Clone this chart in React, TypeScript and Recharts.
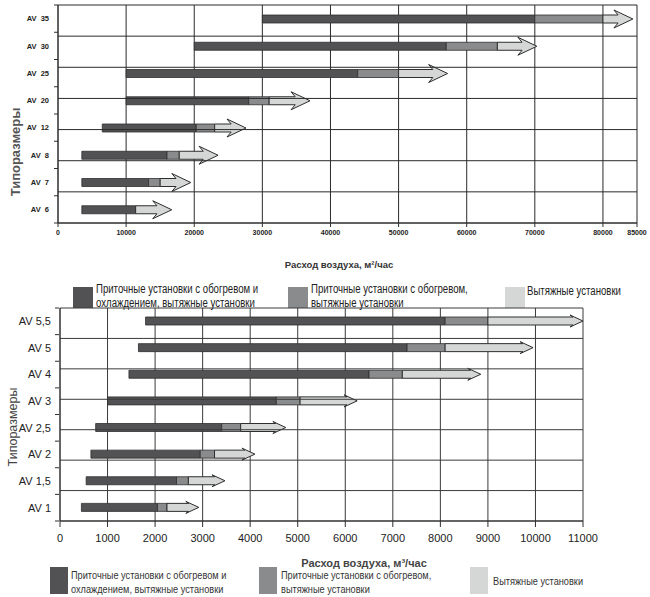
import React from "react";
import { BarChart, Bar, XAxis, YAxis, CartesianGrid, ReferenceLine } from "recharts";

// upper chart: large units, m3/h
const bigSizes = ["AV 35", "AV 30", "AV 25", "AV 20", "AV 12", "AV 8", "AV 7", "AV 6"];
const bigStart = [30000, 20000, 10000, 10000, 6500, 3500, 3500, 3500];
const bigCoolEnd = [70000, 57000, 44000, 28000, 20300, 16000, 13300, 11400];
const bigHeatEnd = [80000, 64500, 50000, 31000, 23000, 17800, 15000, 11400];
const bigMax = [84400, 70300, 57200, 37000, 27600, 23500, 19500, 16700];
const bigTicks = [0, 10000, 20000, 30000, 40000, 50000, 60000, 70000, 80000, 85000];

// lower chart: small units
const smallSizes = ["AV 5,5", "AV 5", "AV 4", "AV 3", "AV 2,5", "AV 2", "AV 1,5", "AV 1"];
const smallStart = [1800, 1650, 1450, 1000, 750, 650, 550, 450];
const smallCoolEnd = [8100, 7300, 6500, 4550, 3400, 2950, 2450, 2050];
const smallHeatEnd = [9000, 8100, 7200, 5050, 3800, 3250, 2700, 2250];
const smallMax = [11000, 9950, 8850, 6250, 4750, 4100, 3470, 2920];
const smallTicks = [0, 1000, 2000, 3000, 4000, 5000, 6000, 7000, 8000, 9000, 10000, 11000];

const legendLines = [
  ["Приточные установки с обогревом и", "охлаждением, вытяжные установки"],
  ["Приточные установки с обогревом,", "вытяжные установки"],
  ["Вытяжные установки"],
];

const DARK = "#525254";
const MID = "#8a8b8d";
const LIGHT = "#d5d7d7";
const EDGE = "#2e2e2e";
const LEGEND_FILLS = [DARK, MID, LIGHT];

const buildRows = (names: string[], start: number[], cool: number[], heat: number[], max: number[]) =>
  names.map((name, i) => ({
    name,
    base: start[i],
    cool: cool[i] - start[i],
    heat: heat[i] - cool[i],
    exhaust: max[i] - heat[i],
  }));

const bigRows = buildRows(bigSizes, bigStart, bigCoolEnd, bigHeatEnd, bigMax);
const smallRows = buildRows(smallSizes, smallStart, smallCoolEnd, smallHeatEnd, smallMax);

const makeArrow = (headLen: number, headH: number) => (props: any) => {
  const { x, y, width, height } = props;
  if (!width || width <= 0) return <g />;
  const tip = x + width;
  const back = tip - headLen;
  const notch = back + headLen * 0.22;
  const cy = y + height / 2;
  const d = `M${x},${y} L${notch},${y} L${back},${cy - headH / 2} L${tip},${cy} L${back},${cy + headH / 2} L${notch},${y + height} L${x},${y + height} Z`;
  return <path d={d} fill={LIGHT} stroke={EDGE} strokeWidth={1} strokeLinejoin="miter" />;
};

const makeRowTick = (band: number, fontSize: number, weight: number, gap: number, wide: boolean) => (props: any) => {
  const { x, y, payload, index } = props;
  const axisX = x + gap;
  const label = wide ? String(payload.value).replace(" ", "\u00a0\u00a0") : payload.value;
  return (
    <g>
      <line x1={axisX - 4} x2={axisX} y1={y - band / 2} y2={y - band / 2} stroke={EDGE} />
      {index === 7 && <line x1={axisX - 4} x2={axisX} y1={y + band / 2} y2={y + band / 2} stroke={EDGE} />}
      <text x={x} y={y} dy="0.35em" textAnchor="end" fontSize={fontSize} fontWeight={weight} fill="#222">
        {label}
      </text>
    </g>
  );
};

const rowEdges = (n: number) => Array.from({ length: n + 1 }, (_, i) => i);

type ChartProps = {
  rows: any[];
  width: number;
  height: number;
  margin: { top: number; right: number; bottom: number; left: number };
  yWidth: number;
  xHeight: number;
  ticks: number[];
  tickFont: any;
  tickSize: number;
  tickMargin: number;
  rowTick: (p: any) => React.ReactElement;
  arrow: (p: any) => React.ReactElement;
  gridColor: string;
};

const RangeChart = (p: ChartProps) => (
  <BarChart width={p.width} height={p.height} data={p.rows} layout="vertical" margin={p.margin} barSize={8}>
    <CartesianGrid horizontal={false} stroke={p.gridColor} strokeWidth={1} />
    <XAxis
      type="number"
      domain={[p.ticks[0], p.ticks[p.ticks.length - 1]]}
      ticks={p.ticks}
      interval={0}
      height={p.xHeight}
      tick={p.tickFont}
      tickSize={p.tickSize}
      tickMargin={p.tickMargin}
      stroke={EDGE}
      allowDataOverflow
    />
    <YAxis
      dataKey="name"
      type="category"
      width={p.yWidth}
      tickLine={false}
      tickSize={0}
      tickMargin={9}
      tick={p.rowTick}
      interval={0}
      stroke={EDGE}
    />
    <YAxis yAxisId="rows" type="number" domain={[0, p.rows.length]} hide orientation="right" />
    {rowEdges(p.rows.length).map((v) => (
      <ReferenceLine key={v} yAxisId="rows" y={v} stroke={p.gridColor} strokeWidth={1} />
    ))}
    <Bar dataKey="base" stackId="s" fill="transparent" isAnimationActive={false} />
    <Bar dataKey="cool" stackId="s" fill={DARK} stroke={EDGE} strokeWidth={0.8} isAnimationActive={false} />
    <Bar dataKey="heat" stackId="s" fill={MID} stroke={EDGE} strokeWidth={0.8} isAnimationActive={false} />
    <Bar dataKey="exhaust" stackId="s" fill={LIGHT} shape={p.arrow} isAnimationActive={false} />
  </BarChart>
);

const abs = (left: number, top: number, extra: React.CSSProperties = {}): React.CSSProperties => ({
  position: "absolute",
  left,
  top,
  ...extra,
});

const Legend = ({ top, squares, textLefts, sqW, sqH, textTop, font, color }: any) => (
  <>
    {legendLines.map((lines, i) => (
      <React.Fragment key={i}>
        <div style={abs(squares[i], top, { width: sqW, height: sqH, background: LEGEND_FILLS[i] })} />
        <div
          style={abs(textLefts[i], textTop[i], {
            fontSize: font,
            lineHeight: "14px",
            color,
            whiteSpace: "nowrap",
            transform: "scaleX(0.8)",
            transformOrigin: "0 0",
          })}
        >
          {lines.map((l) => (
            <div key={l}>{l}</div>
          ))}
        </div>
      </React.Fragment>
    ))}
  </>
);

export default function App() {
  const bigBand = (223 - 5) / bigRows.length;
  const smallBand = (221 - 8) / smallRows.length;
  return (
    <div
      style={{
        position: "absolute",
        left: 0,
        top: 0,
        width: 650,
        height: 597,
        background: "#fff",
        fontFamily: "'Liberation Sans', Arial, sans-serif",
        overflow: "hidden",
      }}
    >
      <div style={abs(0, 0)}>
        <RangeChart
          rows={bigRows}
          width={650}
          height={245}
          margin={{ top: 5, right: 13, bottom: 0, left: 0 }}
          yWidth={58}
          xHeight={22}
          ticks={bigTicks}
          tickFont={{ fontSize: 7, fontWeight: 700, fill: "#222" }}
          tickSize={4}
          tickMargin={3}
          rowTick={makeRowTick(bigBand, 7.5, 700, 9, true)}
          arrow={makeArrow(19, 18)}
          gridColor="#2a2a2a"
        />
      </div>
      <div
        style={abs(15, 152, {
          transform: "translate(-50%, -50%) rotate(-90deg)",
          fontSize: 13,
          fontWeight: 700,
          color: "#555",
          whiteSpace: "nowrap",
        })}
      >
        Типоразмеры
      </div>
      <div
        style={abs(339, 264, {
          transform: "translate(-50%, -50%)",
          fontSize: 9.5,
          fontWeight: 700,
          color: "#333",
          whiteSpace: "nowrap",
        })}
      >
        Расход воздуха, м²/час
      </div>
      <Legend
        top={287}
        squares={[73, 288, 505]}
        textLefts={[96, 311, 527]}
        sqW={20}
        sqH={21}
        textTop={[282, 282, 284]}
        font={12}
        color="#222"
      />

      <div style={abs(0, 300)}>
        <RangeChart
          rows={smallRows}
          width={650}
          height={250}
          margin={{ top: 8, right: 67, bottom: 0, left: 0 }}
          yWidth={60}
          xHeight={29}
          ticks={smallTicks}
          tickFont={{ fontSize: 11, fill: "#222" }}
          tickSize={6}
          tickMargin={7}
          rowTick={makeRowTick(smallBand, 11, 400, 8, false)}
          arrow={makeArrow(13, 12)}
          gridColor="#3a3a3a"
        />
      </div>
      <div
        style={abs(13, 427, {
          transform: "translate(-50%, -50%) rotate(-90deg)",
          fontSize: 12.5,
          color: "#444",
          whiteSpace: "nowrap",
        })}
      >
        Типоразмеры
      </div>
      <div
        style={abs(364, 563, {
          transform: "translate(-50%, -50%)",
          fontSize: 11,
          fontWeight: 700,
          color: "#444",
          whiteSpace: "nowrap",
        })}
      >
        Расход воздуха, м³/час
      </div>
      <Legend
        top={567}
        squares={[50, 259, 470]}
        textLefts={[71, 281, 493]}
        sqW={18}
        sqH={27}
        textTop={[568, 568, 574]}
        font={11.5}
        color="#333"
      />
    </div>
  );
}
